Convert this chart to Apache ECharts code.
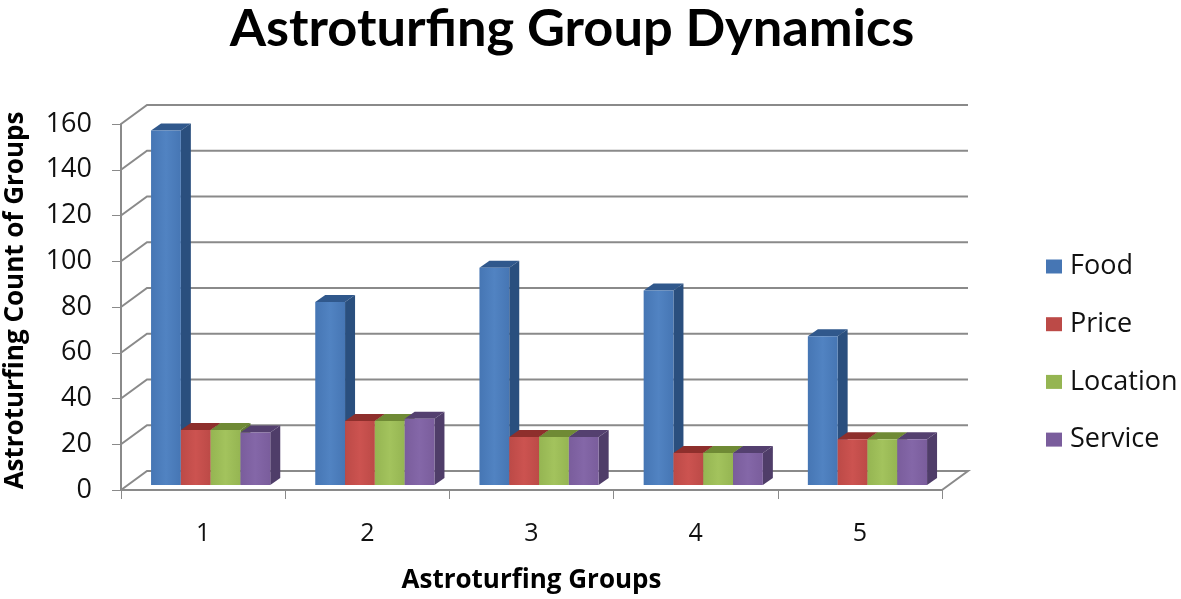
<!DOCTYPE html>
<html>
<head>
<meta charset="utf-8">
<script src="https://cdn.jsdelivr.net/npm/echarts@6/dist/echarts.min.js"></script>
<style>
  html, body { margin: 0; background: #fff; }
  #myChart { width: 1181px; height: 599px; }
</style>
</head>
<body>
<div id="myChart"></div>
<script>
const categories = ['1', '2', '3', '4', '5']
const food = [155, 80, 95, 85, 65]
const price = [24, 28, 21, 14, 20]
const locationData = [24, 28, 21, 14, 20]
const service = [23, 29, 21, 14, 20]
const gridValues = [0, 20, 40, 60, 80, 100, 120, 140, 160]

const fontBody = '"Open Sans", sans-serif'
const fontTitle = 'Lato, sans-serif'
const axisGrey = '#8a8a8a'

// back wall of the fake 3D box, in pixels
const wallDx = 26
const wallDy = -19
// bar depth and how far the bars stand behind the front edge
const barDx = 10
const barDy = -7
const barLift = 5

function renderWall (params, api) {
  const box = params.coordSys
  const val = api.value(0)
  const y = api.coord([0, val])[1]
  const x0 = box.x
  const x1 = box.x + box.width
  const points = [[x0, y], [x0 + wallDx, y + wallDy], [x1 + wallDx, y + wallDy]]
  if (val === 0) {
    points.push([x1, y])
  }
  return {
    type: 'polyline',
    shape: { points: points },
    style: { fill: 'none', stroke: axisGrey, lineWidth: 2 }
  }
}

function barRenderer (slot, front, frontMid, top, side) {
  return function (params, api) {
    const center = api.coord([api.value(0), 0])[0]
    const band = api.size([1, 0])[0]
    const w = band * 0.1815
    const x = center - band / 2 + band * 0.183 + slot * w
    const yTop = api.coord([api.value(0), api.value(1)])[1] - barLift
    const yBase = api.coord([api.value(0), 0])[1] - barLift
    return {
      type: 'group',
      children: [
        {
          type: 'polygon',
          shape: { points: [[x, yTop], [x + barDx, yTop + barDy], [x + w + barDx, yTop + barDy], [x + w, yTop]] },
          style: { fill: top }
        },
        {
          type: 'polygon',
          shape: { points: [[x + w, yTop], [x + w + barDx, yTop + barDy], [x + w + barDx, yBase + barDy], [x + w, yBase]] },
          style: { fill: side }
        },
        {
          type: 'rect',
          shape: { x: x, y: yTop, width: w, height: yBase - yTop },
          style: {
            fill: new echarts.graphic.LinearGradient(0, 0, 1, 0, [
              { offset: 0, color: front },
              { offset: 0.5, color: frontMid },
              { offset: 1, color: front }
            ])
          }
        }
      ]
    }
  }
}

function barSeries (name, values, slot, front, frontMid, top, side) {
  return {
    name: name,
    type: 'custom',
    renderItem: barRenderer(slot, front, frontMid, top, side),
    clip: false,
    itemStyle: { color: front },
    encode: { x: 0, y: 1 },
    data: values.map((v, i) => [i, v])
  }
}

const myChart = echarts.init(document.getElementById('myChart'))
myChart.setOption({
  animation: false,
  backgroundColor: '#fff',
  title: {
    text: 'Astroturfing Group Dynamics',
    left: 567,
    top: -2,
    textAlign: 'center',
    textStyle: { fontFamily: fontTitle, fontWeight: 'bold', fontSize: 52.4, color: '#000' }
  },
  legend: {
    orient: 'vertical',
    left: 1046,
    top: 253,
    padding: 0,
    icon: 'rect',
    itemWidth: 16,
    itemHeight: 14,
    itemGap: 30.7,
    textStyle: { fontFamily: fontBody, fontSize: 27, color: '#111', padding: [0, 0, 0, 3] },
    data: ['Food', 'Price', 'Location', 'Service']
  },
  grid: { left: 121, right: 239, top: 124, bottom: 109, outerBoundsMode: 'none' },
  xAxis: {
    type: 'category',
    data: categories,
    name: 'Astroturfing Groups',
    nameLocation: 'middle',
    nameGap: 78,
    nameTextStyle: { fontFamily: fontBody, fontWeight: 'bold', fontSize: 26, color: '#000' },
    axisLine: { lineStyle: { color: axisGrey, width: 2 } },
    axisTick: { show: true, length: 9, lineStyle: { color: axisGrey, width: 1 } },
    axisLabel: { fontFamily: fontBody, fontSize: 25, color: '#111', margin: 31 }
  },
  yAxis: {
    type: 'value',
    min: 0,
    max: 160,
    interval: 20,
    name: 'Astroturfing Count of Groups',
    nameLocation: 'middle',
    nameGap: 92,
    nameTextStyle: { fontFamily: fontBody, fontWeight: 'bold', fontSize: 26, color: '#000', padding: [0, 0, 0, 13] },
    splitLine: { show: false },
    axisLine: { show: true, lineStyle: { color: axisGrey, width: 2 } },
    axisTick: { show: true, length: 9, lineStyle: { color: axisGrey, width: 1 } },
    axisLabel: { fontFamily: fontBody, fontSize: 27, color: '#111', margin: 29 }
  },
  series: [
    {
      type: 'custom',
      renderItem: renderWall,
      clip: false,
      silent: true,
      encode: { y: 0 },
      data: gridValues.map(v => [v])
    },
    barSeries('Food', food, 0, '#4676b4', '#5183c2', '#30588c', '#2a4f7e'),
    barSeries('Price', price, 1, '#bc4a47', '#cc5350', '#8e2f2c', '#7d2f2d'),
    barSeries('Location', locationData, 2, '#95b552', '#a3c35d', '#6f8a35', '#627b33'),
    barSeries('Service', service, 3, '#7a5d9c', '#8467a8', '#54406f', '#4f3d69')
  ]
})
</script>
</body>
</html>
